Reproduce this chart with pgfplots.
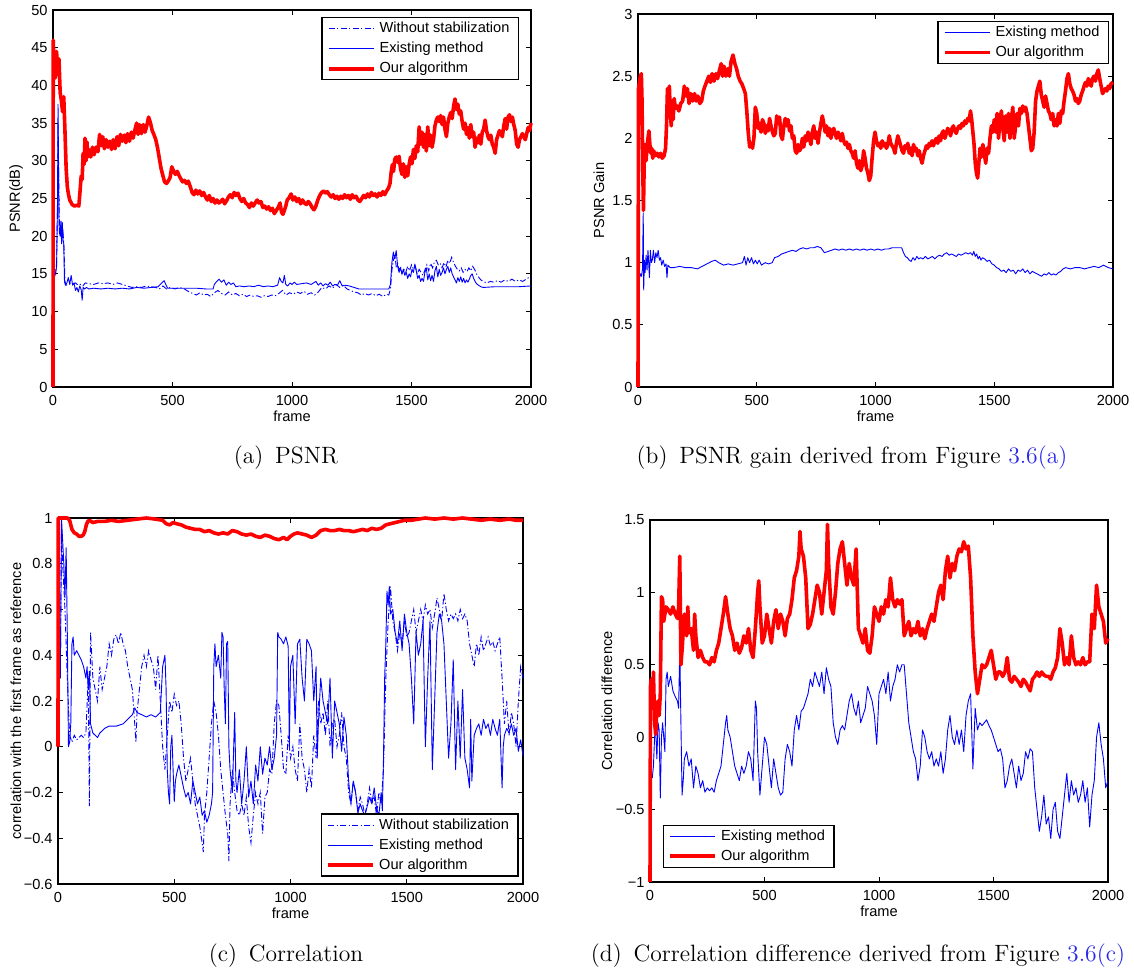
\documentclass[border=0pt]{standalone}
\usepackage{pgfplots}
\pgfplotsset{compat=1.18}
\usepackage{fontspec}
\newfontfamily\axisfont{Liberation Sans}
\newcommand\axfont{\axisfont\fontsize{7.3}{8}\selectfont}
\definecolor{linkblue}{RGB}{40,40,235}
\tikzset{
  wostab/.style={blue, line width=0.45pt, dash pattern=on 3pt off 1.2pt on 0.6pt off 1.2pt},
  exist/.style={blue, line width=0.45pt, line join=round},
  ours/.style={red, line width=1.8pt, line join=round},
}
\pgfplotsset{
  mystyle/.style={
    scale only axis, clip=false, anchor=south west,
    xmin=0, xmax=2000,
    xtick={0,500,1000,1500,2000},
    xticklabels={0,500,1000,1500,2000},
    axis line style={line width=0.6pt},
    tick style={black, line width=0.5pt},
    major tick length=2.5pt,
    tick label style={font=\axfont},
    xticklabel style={anchor=north, inner sep=0pt, yshift=-4pt},
    yticklabel style={anchor=east, inner sep=0pt, xshift=-2.5pt},
    every axis x label/.style={at={(axis description cs:0.5,0)}, anchor=center, yshift=-14.5pt, font=\axfont},
    every axis y label/.style={at={(axis description cs:0,0.5)}, anchor=center, rotate=90, font=\axfont},
    xlabel={frame},
    legend cell align=left,
    legend style={draw=black, line width=0.6pt, fill=white, inner xsep=2.5pt, inner ysep=0.5pt,
      font=\axfont, cells={anchor=west},
      nodes={inner xsep=2pt, inner ysep=1.5pt, text height=5.5pt, text depth=1.5pt}},
    legend image code/.code={\draw[#1] (0pt,0pt) -- (22.5pt,0pt);},
  }
}
\begin{document}
\begin{tikzpicture}
\useasboundingbox (0,0) rectangle (567pt,486pt);
% ---------------- (a) ----------------
\begin{axis}[mystyle, at={(26.5pt,292.5pt)}, width=239pt, height=188.5pt,
  ymin=0, ymax=50, ytick={0,5,10,15,20,25,30,35,40,45,50},
  yticklabels={0,5,10,15,20,25,30,35,40,45,50},
  ylabel={PSNR(dB)}, ylabel style={yshift=18.5pt},
  legend style={at={(rel axis cs:0.975,0.981)}, anchor=north east}]
\addplot[wostab] coordinates {(0,13)(3,17.5)(7,15.5)(11,15)(15,16.5)(19,24)(21,35)(24,28)(27,21)(30,20.5)(34,21.5)(38,20)(42,20.5)(46,18.5)(50,14)(55,13.5)(65,13.6)(75,13.8)(85,13.7)(95,13.8)(105,13.5)(115,13.6)(125,13.4)(135,13.8)(150,13.7)(170,13.6)(190,13.8)(210,13.7)(230,13.8)(250,13.6)(270,13.8)(290,13.6)(310,13.4)(330,13.2)(350,13.3)(370,13.2)(390,13.4)(410,13.3)(430,13.2)(445,13)(460,13.4)(475,13)(490,13.2)(510,13)(530,13.2)(550,13)(570,12.6)(585,12.4)(600,12.2)(615,12.5)(630,12.2)(645,12.3)(660,12.0)(675,12.5)(690,12.8)(705,12.4)(720,12.2)(735,12.6)(750,12.2)(765,12.4)(780,12.1)(795,12.3)(810,12.0)(825,12.2)(840,12.0)(855,12.1)(870,11.9)(885,12.1)(900,12.0)(915,12.2)(930,12.1)(945,12.4)(960,12.8)(975,12.2)(990,12.5)(1005,12.3)(1020,12.6)(1035,12.4)(1050,12.7)(1065,12.3)(1080,12.5)(1095,12.2)(1110,12.6)(1125,13.2)(1140,13.0)(1155,13.4)(1170,13.1)(1185,13.6)(1200,13.2)(1215,13.5)(1230,13)(1245,12.8)(1260,12.6)(1275,12.5)(1290,12.2)(1305,12.4)(1320,12.2)(1335,12.4)(1350,12.1)(1365,12.3)(1380,12.0)(1395,12.3)(1405,12.2)(1412,13)(1418,15.5)(1424,16.8)(1430,17.5)(1436,16)(1442,16.4)(1448,15.5)(1454,16)(1460,15)(1468,15.6)(1476,15.2)(1484,16)(1492,15.4)(1500,16.2)(1508,15.6)(1516,16)(1524,15)(1532,15.6)(1540,15.2)(1548,14.8)(1556,15.5)(1564,16.2)(1572,15.4)(1580,16.4)(1588,15.8)(1596,16.6)(1604,16.8)(1612,16.2)(1620,16.4)(1628,15.8)(1636,16.5)(1644,15.9)(1652,16.8)(1660,16.4)(1668,17.2)(1676,16.5)(1684,16)(1692,15.6)(1700,15.4)(1708,15.8)(1716,15.2)(1724,15.6)(1732,15.3)(1740,15.8)(1748,15.4)(1756,16)(1764,15.6)(1772,15)(1780,14.6)(1790,14.2)(1800,14)(1815,13.8)(1830,14)(1845,13.9)(1860,14.1)(1875,13.9)(1890,14.2)(1905,14)(1920,14.3)(1935,14)(1950,14.2)(1965,14)(1980,14.3)(1990,14.5)(2000,14.3)};
\addlegendentry{Without stabilization}
\addplot[exist] coordinates {(0,13)(3,17)(7,15)(11,15)(15,16)(19,25)(21,37.5)(23,30)(25,22)(27,20.5)(30,20)(33,22)(36,19)(39,21.8)(42,19.5)(45,19)(48,14)(52,13.5)(58,13.8)(64,14.5)(70,13.6)(76,14.8)(82,13.5)(88,13.8)(94,12.8)(100,13.2)(106,12.6)(112,13.4)(118,12.9)(122,11.5)(126,13.2)(132,13)(140,13.2)(150,13)(170,13.1)(200,13)(230,13.1)(260,13)(290,13.1)(320,13)(350,13.2)(380,13.1)(410,13.2)(440,13.3)(455,13.8)(465,14.1)(472,13.6)(480,13.1)(500,13.1)(530,13.1)(560,13.1)(600,13.1)(640,13.0)(670,13.0)(675,13.6)(685,14)(695,14.3)(705,13.9)(715,14.2)(725,13.5)(735,13.9)(745,13.6)(755,13.8)(765,13.3)(780,13.4)(800,13.3)(820,13.4)(840,13.3)(860,13.5)(880,13.3)(900,13.4)(920,13.3)(940,13.5)(948,14.5)(955,14)(962,13.8)(968,14.8)(974,13.6)(982,13.4)(992,13.8)(1000,13.6)(1010,13.9)(1020,13.6)(1040,13.7)(1060,13.8)(1080,13.6)(1100,14)(1110,13.5)(1120,13.8)(1130,13.4)(1140,13.7)(1150,13.5)(1160,13.9)(1170,13.4)(1180,13.6)(1190,13.5)(1200,14.1)(1210,13.4)(1220,13.5)(1240,13.4)(1260,13.2)(1280,13)(1300,13)(1340,13)(1380,13)(1405,13)(1412,13.6)(1418,16.5)(1424,17.9)(1430,17)(1436,18.1)(1442,16)(1448,15.2)(1454,15.8)(1460,15)(1466,15.6)(1472,14.8)(1478,15.2)(1484,14.4)(1490,15)(1496,14.6)(1502,15.6)(1508,15.2)(1514,16.3)(1520,15.4)(1526,14.4)(1532,14.8)(1538,14)(1544,14.4)(1550,14)(1556,15.2)(1562,15.8)(1568,14.2)(1574,15)(1580,14.1)(1586,14.8)(1592,14)(1598,15.4)(1604,16)(1610,14.6)(1616,15.6)(1622,14.8)(1628,15.2)(1634,15.8)(1640,15)(1646,15.6)(1652,16)(1658,15.2)(1664,15.8)(1670,15)(1676,14.6)(1682,14.2)(1688,13.8)(1694,14.5)(1700,14)(1706,14.6)(1712,13.9)(1718,14.4)(1724,13.8)(1730,14.2)(1736,13.9)(1742,14.3)(1748,14.8)(1754,15)(1760,14.4)(1766,14)(1772,13.7)(1780,13.5)(1790,13.3)(1800,13.2)(1850,13.3)(1900,13.3)(1950,13.3)(2000,13.4)};
\addlegendentry{Existing method}
\addplot[ours] coordinates {(0,0)(1,46)(5,42)(10,41)(15,44.5)(20,41.5)(25,43.5)(30,39)(35,38)(40,36.5)(45,38.5)(50,34)(55,29)(60,26.5)(65,25.5)(70,24.8)(80,24.2)(90,24)(100,24.1)(108,24)(112,25.5)(118,28)(122,27.5)(126,31)(130,29.5)(134,33)(138,30)(142,32.5)(146,30.5)(150,31.5)(158,30.5)(165,31.8)(172,30.8)(180,31.8)(188,31.2)(195,33.5)(202,32)(208,33.2)(215,31.6)(222,32.8)(230,31.8)(238,32.6)(245,31.5)(252,32.8)(260,31.6)(268,33.2)(275,32)(282,33.5)(290,32.6)(298,33.4)(305,32.4)(312,33.6)(320,32.6)(328,33.8)(335,33)(342,34)(350,35)(356,33.5)(362,34.8)(370,33.6)(378,34.8)(385,33.8)(392,34.6)(400,35.8)(408,35)(415,34)(422,33.5)(430,32.8)(437,31.8)(445,30.3)(452,29)(460,28)(467,27.2)(475,27)(482,27.3)(490,27.8)(497,29.2)(505,28.6)(512,28.2)(520,28.6)(528,28)(535,27.6)(542,27.2)(550,27.4)(558,27)(566,27.3)(574,26.6)(582,25.8)(590,25.5)(598,26.1)(606,25.6)(614,26)(622,25.4)(630,25.8)(638,25.2)(646,24.8)(654,25.4)(662,24.6)(670,25)(678,24.4)(686,24.8)(694,24.4)(702,24.6)(710,24.9)(718,24.3)(726,24.7)(734,25.2)(742,25.5)(750,25.1)(758,25.8)(766,25.4)(774,25.7)(782,25)(790,24.6)(798,25)(806,24.4)(814,24.2)(822,23.8)(830,24.4)(838,24)(846,24.4)(854,24.8)(862,24.4)(870,24.6)(878,23.8)(886,24)(894,23.6)(902,23.9)(910,23.4)(918,23.7)(926,23)(934,23.4)(942,23.8)(950,24.4)(956,23.2)(962,22.9)(968,23.4)(974,24)(980,24.8)(988,25.1)(996,25.6)(1004,24.8)(1012,25.2)(1020,24.6)(1028,25)(1036,24.3)(1044,24.8)(1052,24.4)(1060,24.2)(1068,24.6)(1076,24.3)(1084,23.8)(1092,23.5)(1100,24)(1108,24.8)(1116,25.4)(1124,25.8)(1132,26)(1140,25.7)(1148,25.9)(1156,25.5)(1164,25.2)(1172,25.5)(1180,25)(1188,25.3)(1196,24.9)(1204,25.3)(1212,25)(1220,25.5)(1228,25.1)(1236,25.4)(1244,24.9)(1252,25.5)(1260,25.1)(1268,25.3)(1276,24.8)(1284,24.6)(1292,25)(1300,25.4)(1308,25.1)(1316,25.6)(1324,25.2)(1332,25.8)(1340,25.4)(1348,25.6)(1356,25.2)(1364,25.7)(1372,25.4)(1380,25.9)(1388,25.5)(1396,26)(1404,26.4)(1410,27)(1415,28.5)(1420,29.5)(1425,28.6)(1430,30.2)(1436,30.5)(1442,29.8)(1448,30.6)(1454,29)(1460,28.2)(1466,29.6)(1472,27.8)(1478,29.2)(1484,28)(1490,29.5)(1496,30.5)(1502,29.6)(1508,31.5)(1514,30.3)(1520,32)(1526,31.2)(1532,34.5)(1538,32.2)(1544,33.8)(1550,31.8)(1556,33.5)(1562,31.3)(1568,34.5)(1574,32)(1580,33.4)(1586,31.8)(1592,32.8)(1598,34.6)(1604,35.4)(1610,35.8)(1616,35.2)(1622,36)(1628,34.8)(1634,35.8)(1640,34.2)(1646,33.2)(1652,35)(1658,35.8)(1664,36.4)(1670,35.6)(1676,37.2)(1682,38.2)(1688,36.8)(1694,37.5)(1700,36.2)(1706,36.6)(1712,35.2)(1718,34.2)(1724,35)(1730,33.5)(1736,34.4)(1742,33)(1748,34.8)(1754,33.2)(1760,33.8)(1766,31.8)(1772,33)(1778,32.4)(1784,33.4)(1790,32.2)(1796,33.8)(1802,34.2)(1808,35.4)(1814,34)(1820,33.2)(1826,32.8)(1832,33.4)(1838,32.2)(1844,31.8)(1850,31)(1856,32.8)(1862,33.4)(1868,34)(1874,33.6)(1880,33.2)(1886,34.6)(1892,35.6)(1898,34.2)(1904,35.8)(1910,36.1)(1916,35.2)(1922,35.8)(1928,34.8)(1934,34)(1940,32.2)(1946,31.8)(1952,32.8)(1958,33.2)(1964,33.6)(1970,33.2)(1976,32.8)(1982,33.6)(1988,34.4)(1994,34)(2000,35)};
\addlegendentry{Our algorithm}
\end{axis}
% ---------------- (b) ----------------
\begin{axis}[mystyle, at={(319pt,292.5pt)}, width=237.5pt, height=186.5pt,
  ymin=0, ymax=3, ytick={0,0.5,1,1.5,2,2.5,3},
  yticklabels={0,0.5,1,1.5,2,2.5,3},
  ylabel={PSNR Gain}, ylabel style={yshift=19.5pt},
  legend style={at={(rel axis cs:0.9916,0.981)}, anchor=north east}]
\addplot[exist] coordinates {(0,0.85)(3,0.9)(7,0.88)(11,0.91)(15,0.89)(19,0.95)(22,1.4)(24,0.78)(27,1.02)(30,0.92)(34,1.06)(38,0.94)(42,1.1)(45,1.0)(48,0.88)(52,1.1)(56,1.0)(60,1.02)(65,1.1)(70,1.0)(75,1.08)(80,1.04)(85,1.1)(90,1.02)(95,1.04)(100,0.98)(106,1.02)(112,0.97)(118,0.99)(122,0.88)(126,0.98)(135,0.96)(150,0.96)(175,0.97)(200,0.96)(225,0.96)(250,0.95)(270,0.97)(290,0.99)(310,1.01)(325,1.02)(340,1.0)(360,0.98)(380,0.99)(400,0.98)(420,0.99)(440,1.0)(448,1.05)(455,0.98)(462,1.04)(470,1.0)(478,1.04)(486,0.99)(494,1.02)(502,0.99)(510,1.02)(520,0.98)(535,1.0)(550,0.99)(565,1.0)(575,1.04)(590,1.05)(605,1.07)(620,1.08)(635,1.09)(650,1.1)(665,1.09)(680,1.11)(695,1.12)(710,1.11)(725,1.12)(740,1.12)(755,1.13)(770,1.12)(785,1.08)(800,1.09)(815,1.1)(830,1.11)(845,1.1)(860,1.11)(875,1.1)(890,1.11)(905,1.1)(920,1.11)(935,1.1)(950,1.11)(965,1.1)(980,1.11)(995,1.1)(1010,1.11)(1025,1.1)(1040,1.11)(1055,1.11)(1070,1.12)(1085,1.12)(1100,1.12)(1110,1.12)(1118,1.08)(1126,1.05)(1134,1.04)(1142,1.02)(1150,1.01)(1158,1.04)(1166,1.02)(1174,1.05)(1182,1.03)(1190,1.04)(1200,1.03)(1210,1.05)(1220,1.03)(1230,1.04)(1240,1.05)(1250,1.03)(1260,1.05)(1270,1.06)(1280,1.05)(1290,1.07)(1300,1.08)(1310,1.06)(1320,1.07)(1330,1.06)(1340,1.05)(1350,1.07)(1360,1.06)(1370,1.07)(1380,1.08)(1390,1.07)(1400,1.08)(1408,1.06)(1414,1.09)(1420,1.05)(1426,1.07)(1432,1.03)(1438,1.05)(1444,1.02)(1450,1.04)(1460,1.03)(1470,1.01)(1480,1.02)(1490,0.99)(1500,0.98)(1510,0.96)(1520,0.95)(1530,0.93)(1540,0.94)(1550,0.92)(1560,0.95)(1570,0.93)(1580,0.94)(1590,0.91)(1600,0.94)(1610,0.93)(1620,0.95)(1630,0.92)(1640,0.94)(1650,0.91)(1660,0.93)(1670,0.92)(1680,0.91)(1690,0.9)(1700,0.89)(1710,0.91)(1720,0.9)(1730,0.92)(1740,0.9)(1750,0.91)(1760,0.9)(1770,0.92)(1780,0.93)(1790,0.95)(1800,0.96)(1820,0.95)(1840,0.96)(1860,0.96)(1880,0.95)(1900,0.96)(1920,0.97)(1940,0.96)(1960,0.98)(1980,0.96)(2000,0.95)};
\addlegendentry{Existing method}
\addplot[ours] coordinates {(0,0)(2,2.4)(6,2.45)(10,2.5)(14,2.52)(17,2.3)(20,1.75)(23,1.42)(26,1.8)(30,1.95)(34,1.82)(38,1.92)(42,2.0)(46,2.06)(50,1.95)(54,1.88)(58,1.92)(62,1.84)(66,1.9)(72,1.86)(80,1.88)(88,1.85)(95,1.88)(102,1.84)(110,1.86)(116,1.92)(120,2.1)(124,2.4)(128,2.28)(132,2.42)(136,2.2)(140,2.1)(144,2.3)(148,2.15)(152,2.32)(158,2.24)(165,2.26)(172,2.22)(180,2.28)(188,2.3)(195,2.42)(202,2.34)(208,2.4)(215,2.28)(222,2.36)(230,2.3)(238,2.36)(245,2.3)(252,2.34)(260,2.28)(268,2.3)(275,2.38)(282,2.42)(290,2.46)(298,2.5)(305,2.45)(312,2.52)(320,2.46)(328,2.52)(335,2.48)(342,2.54)(350,2.6)(356,2.5)(362,2.58)(370,2.5)(378,2.56)(385,2.5)(392,2.62)(400,2.67)(408,2.6)(415,2.56)(422,2.5)(430,2.46)(437,2.44)(445,2.4)(452,2.36)(458,2.22)(464,2.05)(470,1.93)(476,1.96)(482,1.92)(488,2.0)(494,2.25)(500,2.2)(506,2.08)(512,2.12)(518,2.05)(524,2.15)(530,2.12)(536,2.04)(542,2.1)(548,2.06)(554,2.16)(560,2.1)(566,2.05)(572,2.02)(578,2.04)(584,2.18)(590,2.12)(596,2.17)(602,2.02)(608,1.99)(614,2.1)(620,2.16)(626,2.1)(632,2.15)(638,2.06)(644,2.1)(650,2.0)(656,2.02)(662,1.9)(668,1.88)(674,1.95)(680,1.9)(686,1.92)(692,2.0)(698,1.93)(704,2.02)(710,1.98)(716,2.05)(722,2.0)(728,1.95)(734,2.05)(740,2.1)(746,2.0)(752,2.05)(758,1.96)(764,2.05)(770,2.12)(776,2.18)(782,2.12)(788,2.05)(794,2.1)(800,2.02)(806,2.08)(812,2.0)(818,2.05)(824,2.08)(830,2.04)(836,2.0)(842,2.05)(848,2.02)(854,1.98)(860,2.04)(866,1.98)(872,1.95)(878,1.97)(884,1.92)(890,1.95)(896,1.9)(902,1.88)(908,1.84)(914,1.9)(920,1.8)(926,1.76)(932,1.82)(938,1.74)(944,1.78)(950,1.9)(956,1.84)(962,1.76)(968,1.72)(974,1.66)(980,1.7)(986,1.85)(992,1.98)(998,2.05)(1004,1.98)(1010,1.94)(1016,1.96)(1022,1.92)(1028,1.98)(1034,1.94)(1040,1.96)(1046,1.92)(1052,1.95)(1058,2.02)(1064,1.96)(1070,1.94)(1076,1.92)(1082,1.88)(1088,1.96)(1094,2.02)(1100,1.98)(1106,1.94)(1112,1.9)(1118,1.88)(1124,1.94)(1130,1.92)(1136,1.96)(1142,1.88)(1148,1.92)(1154,1.86)(1160,1.95)(1166,1.9)(1172,1.92)(1178,1.86)(1184,1.9)(1190,1.84)(1196,1.8)(1202,1.86)(1208,1.9)(1214,1.94)(1220,1.92)(1226,1.96)(1232,1.94)(1238,1.98)(1244,1.94)(1250,1.98)(1256,2.0)(1262,1.96)(1268,2.02)(1274,1.98)(1280,2.04)(1286,2.06)(1292,2.0)(1298,2.04)(1304,2.08)(1310,2.06)(1316,2.02)(1322,2.08)(1328,2.1)(1334,2.06)(1340,2.04)(1346,2.08)(1352,2.1)(1358,2.08)(1364,2.12)(1370,2.1)(1376,2.14)(1382,2.12)(1388,2.16)(1394,2.14)(1400,2.22)(1405,2.15)(1410,2.05)(1415,1.95)(1420,1.8)(1425,1.72)(1430,1.68)(1435,1.8)(1440,1.92)(1446,1.85)(1452,1.95)(1458,1.88)(1464,1.8)(1470,1.92)(1476,1.88)(1482,2.0)(1488,2.1)(1494,2.05)(1500,2.15)(1506,2.05)(1512,2.2)(1518,2.0)(1524,2.15)(1530,2.22)(1536,2.08)(1542,1.98)(1548,2.18)(1554,2.05)(1560,2.2)(1566,2.0)(1572,2.15)(1578,2.25)(1584,2.0)(1590,2.1)(1596,2.2)(1602,2.1)(1608,2.24)(1614,2.2)(1620,2.26)(1626,2.22)(1632,2.25)(1638,2.2)(1644,2.1)(1650,2.0)(1656,1.9)(1662,1.92)(1668,2.05)(1674,2.3)(1680,2.38)(1686,2.42)(1692,2.46)(1698,2.35)(1704,2.3)(1710,2.25)(1716,2.34)(1722,2.28)(1728,2.22)(1734,2.2)(1740,2.15)(1746,2.2)(1752,2.1)(1758,2.15)(1764,2.1)(1770,2.2)(1776,2.12)(1782,2.22)(1788,2.2)(1794,2.3)(1800,2.38)(1806,2.48)(1812,2.52)(1818,2.44)(1824,2.4)(1830,2.38)(1836,2.35)(1842,2.3)(1848,2.32)(1854,2.28)(1860,2.3)(1866,2.35)(1872,2.38)(1878,2.42)(1884,2.45)(1890,2.42)(1896,2.48)(1902,2.45)(1908,2.42)(1914,2.48)(1920,2.5)(1926,2.46)(1932,2.52)(1938,2.55)(1944,2.48)(1950,2.42)(1956,2.36)(1962,2.38)(1968,2.4)(1974,2.38)(1980,2.42)(1986,2.4)(1992,2.44)(2000,2.45)};
\addlegendentry{Our algorithm}
\end{axis}
% ---------------- (c) ----------------
\begin{axis}[mystyle, at={(29pt,44pt)}, width=232.5pt, height=183pt,
  ymin=-0.6, ymax=1, ytick={-0.6,-0.4,-0.2,0,0.2,0.4,0.6,0.8,1},
  yticklabels={−0.6,−0.4,−0.2,0,0.2,0.4,0.6,0.8,1},
  ylabel={correlation with the first frame as reference}, ylabel style={yshift=21pt},
  legend style={at={(rel axis cs:0.9905,0.02)}, anchor=south east}]
\addplot[wostab] coordinates {(0,0.6)(5,0.62)(10,0.3)(15,0.95)(20,0.8)(30,0.6)(40,0.3)(50,0.05)(60,0.02)(70,0.05)(80,0.03)(100,0.05)(110,0.04)(120,0.06)(130,0.3)(135,-0.26)(140,0.5)(150,0.3)(160,0.25)(170,0.2)(180,0.35)(190,0.25)(200,0.3)(210,0.35)(220,0.45)(230,0.4)(240,0.47)(250,0.49)(260,0.45)(270,0.5)(280,0.45)(290,0.42)(300,0.35)(310,0.3)(320,0.25)(330,0.1)(335,0.02)(340,0.15)(350,0.25)(360,0.35)(370,0.4)(380,0.35)(390,0.42)(400,0.38)(410,0.35)(420,0.25)(430,0.4)(440,0.2)(450,0.0)(460,-0.1)(470,0.05)(480,0.2)(490,0.15)(500,0.23)(510,0.18)(520,0.2)(530,0.1)(540,-0.05)(550,-0.15)(560,-0.1)(570,-0.05)(580,-0.15)(590,-0.25)(600,-0.3)(610,-0.35)(620,-0.42)(625,-0.46)(630,-0.3)(640,-0.2)(650,-0.05)(660,0.1)(670,0.2)(680,0.15)(690,0.05)(700,-0.1)(710,-0.2)(720,-0.3)(730,-0.38)(735,-0.5)(740,-0.25)(750,-0.1)(760,-0.2)(770,-0.28)(780,-0.3)(790,-0.25)(800,-0.3)(810,-0.22)(820,-0.35)(830,-0.42)(840,-0.3)(850,-0.2)(860,-0.25)(870,-0.2)(880,-0.38)(890,-0.22)(900,-0.2)(910,-0.1)(920,-0.12)(930,0.1)(940,0.2)(950,0.18)(960,0.05)(970,-0.1)(980,-0.12)(990,0.05)(1000,-0.05)(1010,0.0)(1020,-0.1)(1030,-0.15)(1040,0.1)(1050,-0.05)(1060,-0.1)(1070,-0.2)(1080,-0.1)(1090,-0.18)(1100,0.05)(1110,-0.05)(1120,0.2)(1130,0.1)(1140,0.15)(1150,0.05)(1160,0.2)(1170,0.0)(1180,0.1)(1190,0.12)(1200,0.0)(1210,0.05)(1220,0.15)(1230,0.0)(1240,-0.05)(1250,-0.2)(1260,-0.25)(1270,-0.15)(1280,-0.2)(1290,-0.28)(1300,-0.22)(1310,-0.25)(1320,-0.3)(1330,-0.25)(1340,-0.18)(1350,-0.25)(1360,-0.22)(1370,-0.3)(1380,-0.2)(1390,-0.25)(1400,-0.1)(1410,0.3)(1420,0.55)(1430,0.7)(1440,0.55)(1450,0.5)(1460,0.42)(1470,0.5)(1480,0.45)(1490,0.55)(1500,0.48)(1510,0.5)(1520,0.55)(1530,0.6)(1540,0.5)(1550,0.55)(1560,0.6)(1570,0.55)(1580,0.62)(1590,0.58)(1600,0.6)(1610,0.52)(1620,0.58)(1630,0.65)(1640,0.6)(1650,0.55)(1660,0.67)(1670,0.6)(1680,0.55)(1690,0.58)(1700,0.56)(1710,0.58)(1720,0.55)(1730,0.6)(1740,0.56)(1750,0.58)(1760,0.55)(1770,0.45)(1780,0.4)(1790,0.35)(1800,0.45)(1810,0.4)(1820,0.48)(1830,0.42)(1840,0.45)(1850,0.48)(1860,0.44)(1870,0.46)(1880,0.42)(1890,0.45)(1900,0.48)(1910,0.3)(1920,0.1)(1930,0.2)(1940,0.05)(1950,0.15)(1960,0.1)(1970,0.0)(1980,0.2)(1990,0.35)(2000,0.3)};
\addlegendentry{Without stabilization}
\addplot[exist] coordinates {(0,0.4)(5,0.6)(10,0.3)(15,1.0)(20,0.9)(25,0.8)(30,0.65)(35,0.87)(40,0.5)(45,0.0)(50,0.02)(55,0.1)(60,0.45)(65,0.48)(70,0.4)(80,0.42)(90,0.4)(100,0.38)(110,0.35)(120,0.3)(125,0.35)(130,0.25)(135,0.33)(140,0.1)(145,0.08)(150,0.06)(160,0.05)(170,0.04)(180,0.06)(200,0.08)(220,0.09)(250,0.09)(280,0.1)(300,0.12)(320,0.14)(330,0.17)(340,0.15)(360,0.14)(380,0.13)(400,0.14)(420,0.13)(440,0.15)(450,0.35)(460,0.4)(465,0.25)(470,-0.1)(475,-0.2)(480,-0.25)(485,0.0)(490,0.05)(495,-0.1)(500,-0.24)(505,-0.15)(510,-0.12)(520,-0.08)(530,-0.13)(540,-0.18)(550,-0.22)(560,-0.2)(570,-0.25)(580,-0.15)(590,-0.2)(600,-0.25)(610,-0.22)(620,-0.3)(630,-0.28)(640,-0.33)(650,-0.3)(660,-0.25)(665,-0.2)(670,0.35)(675,0.45)(680,0.35)(690,0.4)(700,0.3)(705,0.5)(710,0.48)(715,0.25)(720,0.1)(725,0.45)(730,0.46)(735,0.0)(740,-0.1)(750,-0.2)(760,0.15)(765,-0.15)(770,-0.2)(780,-0.1)(790,-0.25)(800,-0.15)(810,0.0)(820,-0.22)(830,-0.15)(840,-0.25)(850,-0.08)(860,-0.15)(870,0.0)(880,-0.12)(890,-0.05)(900,-0.08)(910,0.0)(920,-0.1)(930,-0.05)(940,0.05)(945,0.5)(950,0.48)(960,0.47)(970,0.45)(980,0.48)(990,0.44)(995,0.0)(1000,0.35)(1010,0.4)(1020,0.1)(1030,0.45)(1040,0.47)(1050,0.3)(1060,0.2)(1070,0.47)(1080,0.45)(1090,0.42)(1100,0.2)(1110,0.35)(1115,-0.05)(1120,0.1)(1130,0.3)(1140,0.2)(1150,0.15)(1160,0.1)(1170,0.3)(1180,-0.05)(1190,0.2)(1200,0.15)(1210,0.1)(1220,-0.02)(1230,0.13)(1240,0.05)(1250,-0.15)(1260,-0.25)(1270,-0.15)(1280,-0.2)(1290,-0.29)(1300,-0.25)(1310,-0.28)(1320,-0.3)(1330,-0.26)(1340,-0.22)(1350,-0.25)(1360,-0.18)(1370,-0.27)(1380,-0.3)(1390,-0.2)(1395,-0.28)(1400,-0.05)(1405,0.3)(1410,0.45)(1415,0.68)(1420,0.62)(1425,0.7)(1430,0.58)(1440,0.6)(1450,0.5)(1460,0.45)(1470,0.55)(1480,0.42)(1490,0.58)(1500,0.5)(1510,0.45)(1520,0.3)(1530,0.1)(1540,0.5)(1550,0.4)(1560,0.45)(1570,0.55)(1580,0.0)(1590,0.3)(1600,0.55)(1610,-0.1)(1620,0.2)(1630,0.5)(1640,0.58)(1650,0.55)(1660,0.45)(1670,0.2)(1680,-0.05)(1690,0.1)(1700,0.38)(1710,-0.1)(1720,0.2)(1730,-0.05)(1740,0.25)(1750,-0.05)(1760,-0.1)(1770,-0.18)(1775,0.12)(1780,-0.15)(1790,0.05)(1800,0.08)(1810,0.1)(1820,0.05)(1830,0.12)(1840,0.08)(1850,0.1)(1860,0.05)(1870,0.12)(1880,0.08)(1890,0.05)(1900,0.12)(1910,-0.18)(1915,0.0)(1920,0.05)(1930,0.08)(1940,0.06)(1950,0.1)(1960,0.05)(1970,0.08)(1980,-0.02)(1990,0.03)(2000,-0.04)};
\addlegendentry{Existing method}
\addplot[ours] coordinates {(0,0)(1,1)(20,1)(40,1)(50,0.99)(55,0.97)(60,0.95)(70,0.935)(80,0.93)(90,0.92)(100,0.92)(108,0.925)(115,0.94)(122,0.97)(128,0.985)(135,0.99)(150,0.98)(170,0.985)(200,0.985)(230,0.99)(260,0.985)(300,0.99)(340,0.995)(380,1.0)(420,0.995)(450,0.99)(465,0.975)(480,0.97)(495,0.98)(510,0.975)(530,0.97)(550,0.96)(570,0.955)(590,0.95)(610,0.95)(630,0.94)(650,0.945)(670,0.935)(690,0.93)(710,0.935)(730,0.93)(750,0.945)(770,0.94)(790,0.93)(810,0.925)(830,0.93)(850,0.92)(870,0.915)(890,0.925)(910,0.92)(930,0.91)(950,0.905)(970,0.915)(985,0.905)(1000,0.92)(1015,0.93)(1030,0.935)(1050,0.93)(1070,0.925)(1090,0.915)(1110,0.925)(1130,0.945)(1150,0.95)(1170,0.945)(1190,0.945)(1210,0.95)(1230,0.945)(1250,0.945)(1270,0.94)(1290,0.945)(1310,0.95)(1330,0.945)(1350,0.955)(1370,0.95)(1390,0.955)(1410,0.97)(1430,0.975)(1450,0.98)(1470,0.985)(1490,0.99)(1520,0.99)(1550,0.995)(1580,1.0)(1620,0.995)(1660,1.0)(1700,0.995)(1740,1.0)(1780,0.995)(1820,0.99)(1860,0.995)(1900,0.99)(1940,0.995)(1970,0.99)(2000,0.99)};
\addlegendentry{Our algorithm}
\end{axis}
% ---------------- (d) ----------------
\begin{axis}[mystyle, at={(325pt,45pt)}, width=229pt, height=181pt,
  ymin=-1, ymax=1.5, ytick={-1,-0.5,0,0.5,1,1.5},
  yticklabels={−1,−0.5,0,0.5,1,1.5},
  ylabel={Correlation difference}, ylabel style={yshift=21.5pt},
  legend style={at={(rel axis cs:0.028,0.039)}, anchor=south west}]
\addplot[exist] coordinates {(0,-0.2)(5,-0.25)(10,-0.28)(15,-0.2)(20,0.0)(25,0.05)(30,-0.15)(35,0.1)(40,0.05)(45,-0.42)(50,0.0)(55,0.1)(60,0.0)(65,-0.1)(70,0.4)(75,0.45)(80,0.35)(90,0.42)(100,0.32)(110,0.28)(120,0.25)(125,0.2)(130,0.62)(135,0.1)(140,-0.4)(145,-0.3)(150,-0.15)(160,-0.1)(170,-0.2)(180,-0.15)(190,-0.35)(200,-0.2)(210,-0.25)(220,-0.35)(230,-0.3)(240,-0.38)(250,-0.35)(260,-0.37)(270,-0.35)(280,-0.38)(290,-0.3)(300,-0.25)(310,-0.2)(320,-0.05)(330,0.1)(335,0.15)(340,0.05)(350,0.0)(360,-0.1)(370,-0.2)(380,-0.25)(390,-0.3)(400,-0.2)(410,-0.25)(420,-0.2)(430,-0.1)(440,-0.15)(450,-0.3)(460,0.25)(465,0.2)(470,-0.1)(480,-0.4)(490,-0.2)(500,0.0)(510,-0.05)(520,-0.2)(530,-0.35)(540,-0.15)(550,-0.25)(560,-0.35)(570,-0.4)(580,-0.38)(590,-0.15)(600,-0.05)(610,-0.1)(620,-0.2)(630,0.05)(640,0.15)(650,0.05)(660,0.18)(670,0.2)(680,0.25)(690,0.3)(700,0.4)(710,0.35)(720,0.45)(730,0.4)(740,0.35)(750,0.45)(760,0.3)(770,0.48)(780,0.4)(790,0.35)(800,0.1)(810,0.0)(820,-0.05)(830,0.05)(840,0.08)(850,0.05)(860,0.15)(870,0.25)(880,0.3)(890,0.2)(900,0.15)(910,0.25)(920,0.1)(930,0.15)(940,0.2)(950,0.35)(960,0.3)(970,0.25)(980,0.15)(990,-0.05)(1000,0.3)(1010,0.35)(1020,0.4)(1030,0.3)(1040,0.45)(1050,0.25)(1060,0.35)(1070,0.4)(1080,0.5)(1090,0.45)(1100,0.5)(1110,0.5)(1120,0.3)(1130,0.1)(1140,0.0)(1150,-0.1)(1160,-0.15)(1170,-0.3)(1180,-0.2)(1190,0.05)(1200,0.0)(1210,-0.1)(1220,-0.15)(1230,-0.1)(1240,-0.2)(1250,-0.15)(1260,-0.2)(1270,-0.1)(1280,-0.25)(1290,-0.15)(1300,0.05)(1310,0.15)(1320,0.0)(1330,-0.05)(1340,0.05)(1350,-0.05)(1360,0.05)(1370,-0.1)(1380,0.15)(1390,0.25)(1400,0.3)(1410,-0.22)(1420,0.2)(1430,0.05)(1440,0.1)(1450,0.08)(1460,0.1)(1470,0.12)(1480,0.08)(1490,0.05)(1500,0.0)(1510,-0.05)(1520,-0.1)(1530,-0.08)(1540,-0.15)(1550,-0.35)(1560,-0.3)(1570,-0.2)(1580,-0.15)(1590,-0.25)(1600,-0.35)(1610,-0.2)(1620,-0.3)(1630,-0.25)(1640,-0.1)(1650,-0.15)(1660,-0.08)(1670,-0.1)(1680,-0.35)(1690,-0.5)(1700,-0.65)(1710,-0.55)(1720,-0.4)(1730,-0.6)(1740,-0.55)(1750,-0.7)(1760,-0.5)(1770,-0.45)(1780,-0.65)(1790,-0.7)(1800,-0.55)(1810,-0.4)(1820,-0.25)(1830,-0.45)(1840,-0.3)(1850,-0.4)(1860,-0.35)(1870,-0.45)(1880,-0.4)(1890,-0.3)(1900,-0.45)(1910,-0.35)(1920,-0.62)(1930,-0.4)(1940,-0.3)(1950,0.0)(1960,0.1)(1970,-0.05)(1980,-0.15)(1990,-0.35)(2000,-0.3)};
\addlegendentry{Existing method}
\addplot[ours] coordinates {(0,-1)(2,0.35)(5,0.4)(10,0.2)(15,0.45)(20,0.1)(25,0.02)(30,0.2)(35,0.25)(40,0.15)(45,0.3)(50,0.97)(55,0.95)(60,0.8)(70,0.9)(80,0.88)(90,0.85)(100,0.9)(110,0.85)(120,0.82)(125,0.9)(130,1.25)(135,0.5)(140,0.6)(150,0.85)(160,0.7)(165,0.9)(170,0.72)(180,0.75)(190,0.6)(195,0.85)(200,0.7)(210,0.55)(220,0.6)(230,0.55)(240,0.52)(250,0.52)(260,0.5)(270,0.55)(280,0.52)(290,0.6)(300,0.65)(310,0.75)(320,0.85)(330,0.97)(340,0.85)(350,0.75)(360,0.7)(370,0.6)(380,0.65)(390,0.58)(400,0.62)(410,0.7)(420,0.65)(430,0.75)(440,0.6)(450,0.55)(460,0.75)(470,1.0)(475,1.08)(480,0.9)(490,0.65)(500,0.7)(510,0.85)(520,0.75)(530,0.65)(540,0.8)(550,0.88)(560,0.75)(570,0.85)(580,0.8)(590,0.7)(600,0.82)(610,0.85)(620,0.95)(630,1.1)(640,1.15)(650,1.25)(655,1.42)(660,1.3)(670,1.25)(680,1.1)(690,0.75)(700,0.78)(710,0.85)(720,0.95)(730,1.05)(740,1.0)(750,0.85)(760,1.0)(770,1.15)(775,1.47)(780,1.2)(790,0.9)(800,0.85)(810,1.0)(820,1.2)(830,1.3)(840,1.35)(850,1.2)(860,1.05)(870,1.2)(880,1.1)(890,1.05)(900,1.3)(910,0.75)(920,0.7)(930,0.65)(940,0.75)(950,0.6)(960,0.58)(970,0.7)(980,0.9)(990,0.85)(1000,0.8)(1010,0.9)(1020,0.85)(1030,0.95)(1040,0.9)(1050,1.1)(1060,0.95)(1070,0.9)(1080,0.95)(1090,0.92)(1100,0.95)(1110,0.7)(1120,0.75)(1130,0.8)(1140,0.7)(1150,0.75)(1160,0.72)(1170,0.8)(1180,0.7)(1190,0.75)(1200,0.68)(1210,0.75)(1220,0.8)(1230,0.85)(1240,0.8)(1250,0.9)(1260,1.0)(1270,1.05)(1280,0.95)(1290,1.15)(1300,1.25)(1310,1.1)(1320,1.2)(1330,1.15)(1340,1.25)(1350,1.3)(1360,1.28)(1370,1.35)(1380,1.3)(1390,1.32)(1400,1.1)(1410,0.7)(1420,0.45)(1430,0.3)(1440,0.4)(1450,0.5)(1460,0.48)(1470,0.5)(1480,0.55)(1490,0.6)(1500,0.5)(1510,0.4)(1520,0.45)(1530,0.45)(1540,0.42)(1550,0.45)(1560,0.55)(1570,0.4)(1580,0.38)(1590,0.42)(1600,0.4)(1610,0.38)(1620,0.35)(1630,0.4)(1640,0.38)(1650,0.35)(1660,0.32)(1670,0.4)(1680,0.42)(1690,0.45)(1700,0.42)(1710,0.45)(1720,0.43)(1730,0.42)(1740,0.42)(1750,0.4)(1760,0.45)(1770,0.48)(1780,0.55)(1790,0.75)(1800,0.65)(1810,0.5)(1820,0.55)(1830,0.5)(1840,0.7)(1850,0.55)(1860,0.5)(1870,0.52)(1880,0.5)(1890,0.55)(1900,0.5)(1910,0.52)(1920,0.52)(1930,0.85)(1940,0.75)(1950,1.05)(1960,0.9)(1970,0.85)(1980,0.8)(1990,0.65)(2000,0.68)};
\addlegendentry{Our algorithm}
\end{axis}
% ---------------- captions ----------------
\begin{scope}[every node/.style={font=\fontsize{11.8}{14}\selectfont, inner sep=0pt}]
\node[anchor=base] at (143pt,254pt) {(a)\enspace PSNR};
\node[anchor=base] at (426pt,254pt) {(b)\enspace PSNR gain derived from Figure \textcolor{linkblue}{3.6(a)}};
\node[anchor=base] at (143pt,5pt) {(c)\enspace Correlation};
\node[anchor=base] at (429pt,5pt) {(d)\enspace Correlation difference derived from Figure \textcolor{linkblue}{3.6(c)}};
\end{scope}
\end{tikzpicture}
\end{document}
